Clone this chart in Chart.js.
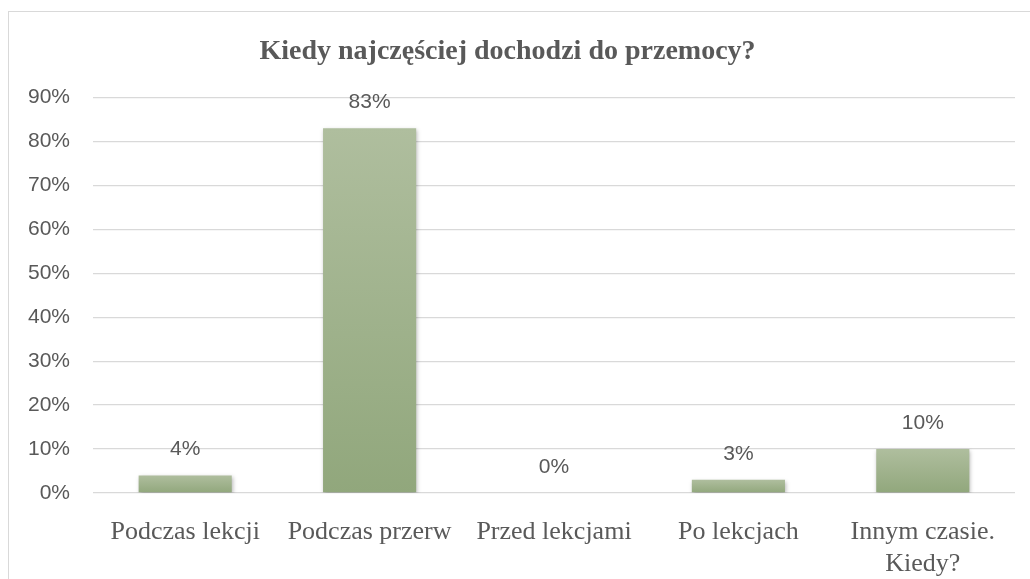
<!DOCTYPE html>
<html>
<head>
<meta charset="utf-8">
<script src="https://cdn.jsdelivr.net/npm/chart.js@4.4.1/dist/chart.umd.min.js"></script>
<style>
  body { margin: 0; background: #fff; overflow: hidden; }
  #frame { position: absolute; left: 8px; top: 11px; width: 1100px; height: 700px; border: 1px solid #d9d9d9; }
  #chart { position: absolute; left: 0; top: 0; }
</style>
</head>
<body>
<div id="frame"></div>
<canvas id="chart" width="1030" height="579"></canvas>
<script>
// chart data
const categories = ["Podczas lekcji", "Podczas przerw", "Przed lekcjami", "Po lekcjach", ["Innym czasie.", "Kiedy?"]];
const percentValues = [4, 83, 0, 3, 10];
const tickValues = [0, 10, 20, 30, 40, 50, 60, 70, 80, 90];
const chartTitle = "Kiedy najczęściej dochodzi do przemocy?";

const textColor = "#595959";
const barTop = "#afbe9e";
const barBottom = "#91a77c";

// gradient per bar, light at top, darker at the base
function bar_gradient(context) {
    const chart = context.chart;
    const {ctx, chartArea, scales} = chart;
    if (!chartArea) return barTop;
    const yTop = scales.y.getPixelForValue(context.raw);
    const yBase = scales.y.getPixelForValue(0);
    if (yBase - yTop < 1) return barBottom;
    const g = ctx.createLinearGradient(0, yTop, 0, yBase);
    g.addColorStop(0, barTop);
    g.addColorStop(1, barBottom);
    return g;
}

// shadow under the bars + value labels above them
const barExtras = {
    id: "barExtras",
    beforeDatasetsDraw(chart) {
        const ctx = chart.ctx;
        ctx.save();
        ctx.shadowColor = "rgba(0,0,0,0.28)";
        ctx.shadowBlur = 4;
        ctx.shadowOffsetX = 1;
        ctx.shadowOffsetY = 2;
    },
    afterDatasetsDraw(chart) {
        const ctx = chart.ctx;
        ctx.restore();
        const meta = chart.getDatasetMeta(0);
        ctx.save();
        ctx.font = "21px 'Liberation Sans', Arial, sans-serif";
        ctx.fillStyle = textColor;
        ctx.textAlign = "center";
        ctx.textBaseline = "middle";
        meta.data.forEach((bar, i) => {
            ctx.fillText(percentValues[i] + "%", bar.x, bar.y - 26);
        });
        ctx.restore();
    }
};

new Chart(document.getElementById("chart").getContext("2d"), {
    type: "bar",
    data: {
        labels: categories,
        datasets: [{
            data: percentValues,
            backgroundColor: bar_gradient,
            borderWidth: 0,
            categoryPercentage: 1,
            barPercentage: 0.505
        }]
    },
    options: {
        responsive: false,
        animation: false,
        devicePixelRatio: 1,
        layout: { padding: { left: 0, right: 15, top: 0, bottom: 0 } },
        plugins: {
            legend: { display: false },
            tooltip: { enabled: false },
            title: {
                display: true,
                text: chartTitle,
                color: textColor,
                font: { family: "'Liberation Serif', 'Times New Roman', serif", size: 28, weight: "bold", lineHeight: 1.2 },
                padding: { top: 35, bottom: 29 }
            }
        },
        scales: {
            x: {
                grid: { display: false },
                border: { display: false },
                ticks: {
                    color: textColor,
                    font: { family: "'Liberation Serif', 'Times New Roman', serif", size: 26, lineHeight: 1.2 },
                    padding: 16,
                    maxRotation: 0,
                    autoSkip: false
                },
                afterFit: scale => { scale.height = 86; }
            },
            y: {
                min: 0,
                max: 90,
                afterBuildTicks: scale => { scale.ticks = tickValues.map(v => ({ value: v })); },
                ticks: {
                    color: textColor,
                    font: { family: "'Liberation Sans', Arial, sans-serif", size: 21 },
                    padding: 23,
                    callback: v => v + "%"
                },
                grid: { color: "#d9d9d9", lineWidth: 1.3, drawTicks: false },
                border: { display: false },
                afterFit: scale => { scale.width = 93; }
            }
        }
    },
    plugins: [barExtras]
});
</script>
</body>
</html>
